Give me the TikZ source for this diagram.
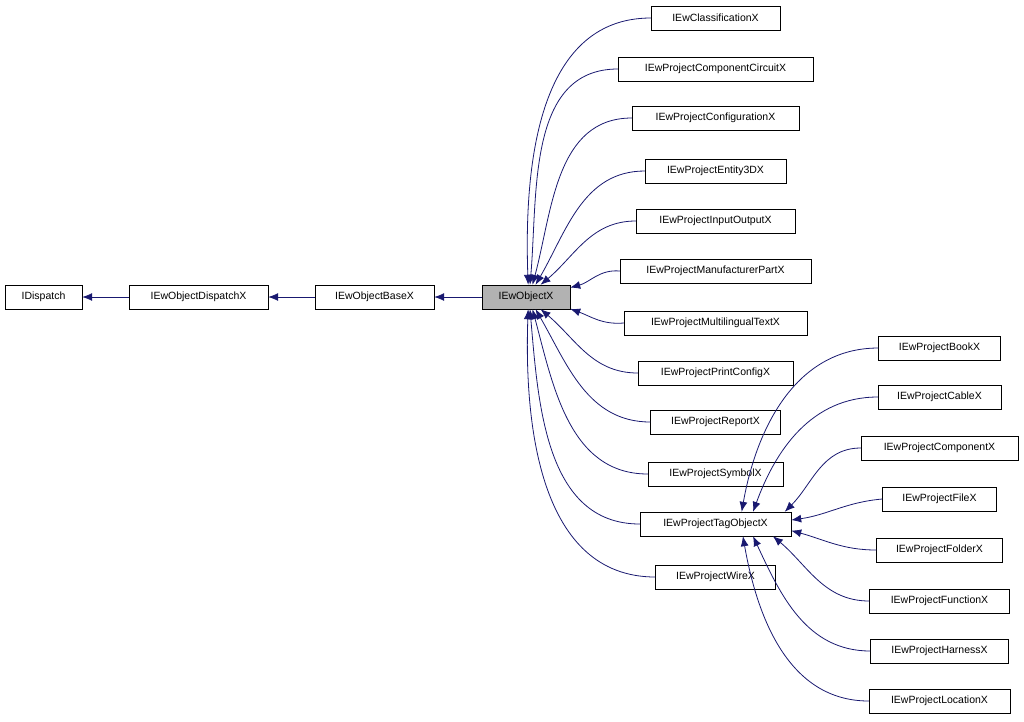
\documentclass[tikz,border=0pt]{standalone}
\usepackage{fontspec}
\setmainfont{Liberation Sans}
\usetikzlibrary{arrows.meta}
\definecolor{edge}{HTML}{191970}
\begin{document}
\begin{tikzpicture}[x=1pt,y=-1pt,
  box/.style={draw=black,fill=white,minimum height=24pt,inner sep=0pt,font=\fontsize{10.5}{12}\selectfont},
  e/.style={draw=edge,line width=0.8pt,-{Latex[length=10pt,width=8pt]}}]
\useasboundingbox (0,0) rectangle (1024,721);
\node[box,minimum width=77] (idisp) at (43.5,297) {IDispatch};
\node[box,minimum width=139] (odisp) at (198.5,297) {IEwObjectDispatchX};
\node[box,minimum width=119] (obase) at (374.5,297) {IEwObjectBaseX};
\node[box,minimum width=88,fill=black!30] (obj) at (526,297) {IEwObjectX};
\node[box,minimum width=129] (cls) at (715.5,18) {IEwClassificationX};
\node[box,minimum width=195] (circ) at (715.5,69) {IEwProjectComponentCircuitX};
\node[box,minimum width=167] (conf) at (715.5,118) {IEwProjectConfigurationX};
\node[box,minimum width=141] (ent) at (715.5,171) {IEwProjectEntity3DX};
\node[box,minimum width=159] (io) at (715.5,221) {IEwProjectInputOutputX};
\node[box,minimum width=191] (man) at (715.5,271) {IEwProjectManufacturerPartX};
\node[box,minimum width=183] (mult) at (715.5,323) {IEwProjectMultilingualTextX};
\node[box,minimum width=155] (prn) at (715.5,373) {IEwProjectPrintConfigX};
\node[box,minimum width=130] (rep) at (715.5,422) {IEwProjectReportX};
\node[box,minimum width=135] (sym) at (715.5,474) {IEwProjectSymbolX};
\node[box,minimum width=151] (tag) at (715.5,524) {IEwProjectTagObjectX};
\node[box,minimum width=120] (wire) at (715.5,577) {IEwProjectWireX};
\node[box,minimum width=122] (book) at (939.5,348) {IEwProjectBookX};
\node[box,minimum width=123] (cab) at (939.5,397) {IEwProjectCableX};
\node[box,minimum width=157] (comp) at (939.5,448) {IEwProjectComponentX};
\node[box,minimum width=114] (file) at (939.5,499) {IEwProjectFileX};
\node[box,minimum width=126] (fold) at (939.5,550) {IEwProjectFolderX};
\node[box,minimum width=140] (func) at (939.5,601) {IEwProjectFunctionX};
\node[box,minimum width=138] (harn) at (939.5,651) {IEwProjectHarnessX};
\node[box,minimum width=141] (loc) at (939.5,701) {IEwProjectLocationX};
\draw[e] (odisp) -- (idisp);
\draw[e] (obase) -- (odisp);
\draw[e] (obj) -- (obase);
\draw[e] (cls.west) to[out=180,in=92] (obj.80);
\draw[e] (circ.west) to[out=180,in=85] (obj.72);
\draw[e] (conf.west) to[out=180,in=75] (obj.62);
\draw[e] (ent.west) to[out=180,in=60] (obj.52);
\draw[e] (io.west) to[out=180,in=40] (obj.40);
\draw[e] (man.west) to[out=175,in=15] (obj.12);
\draw[e] (mult.west) to[out=185,in=-20] (obj.-15);
\draw[e] (prn.west) to[out=180,in=-40] (obj.-40);
\draw[e] (rep.west) to[out=180,in=-60] (obj.-52);
\draw[e] (sym.west) to[out=180,in=-75] (obj.-62);
\draw[e] (tag.west) to[out=180,in=-85] (obj.-72);
\draw[e] (wire.west) to[out=180,in=-92] (obj.-80);
\draw[e] (book.west) to[out=180,in=80] (tag.25);
\draw[e] (cab.west) to[out=180,in=70] (tag.18);
\draw[e] (comp.west) to[out=180,in=45] (tag.10);
\draw[e] (file.west) to[out=185,in=8] (tag.3);
\draw[e] (fold.west) to[out=180,in=-15] (tag.-5);
\draw[e] (func.west) to[out=180,in=-40] (tag.-12);
\draw[e] (harn.west) to[out=180,in=-65] (tag.-18);
\draw[e] (loc.west) to[out=180,in=-80] (tag.-24);
\end{tikzpicture}
\end{document}
